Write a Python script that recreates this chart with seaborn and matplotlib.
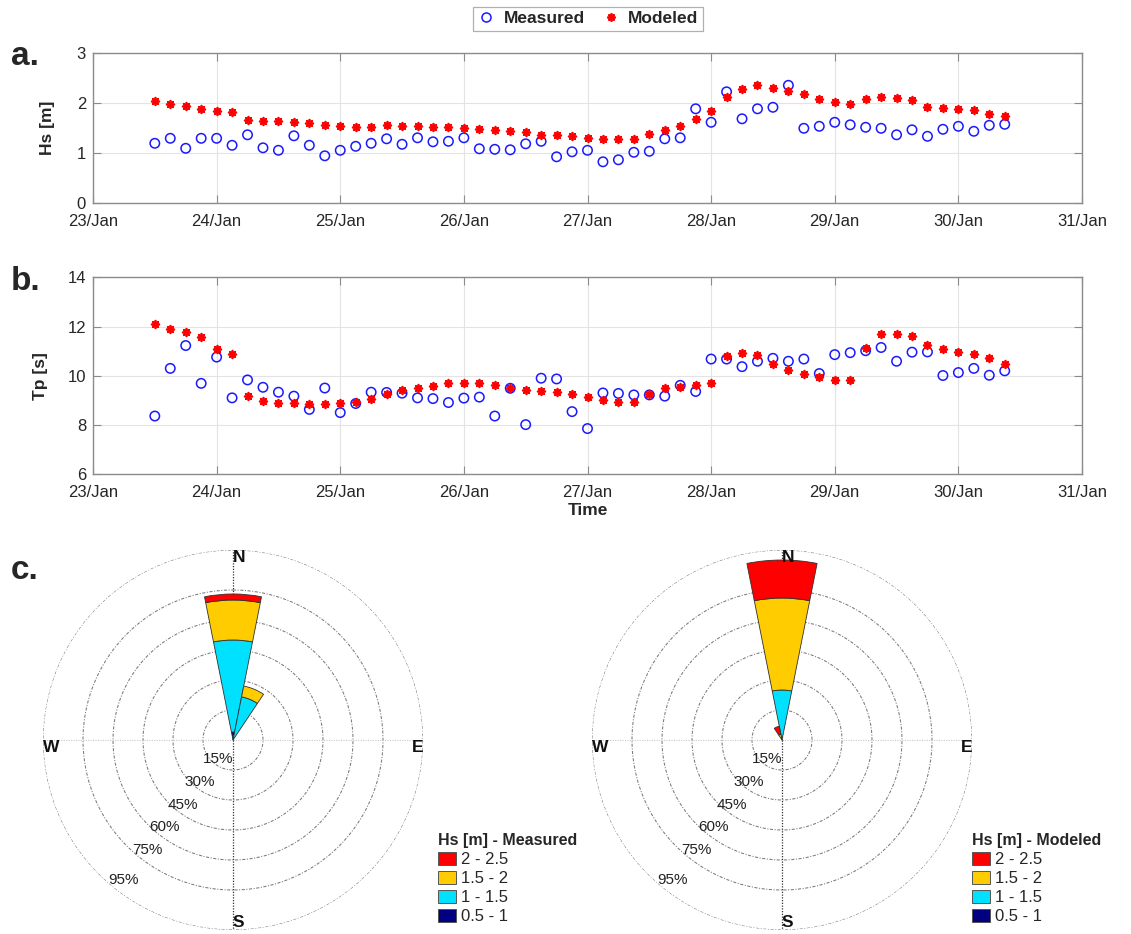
import numpy as np
import pandas as pd
import matplotlib
matplotlib.use("Agg")
import matplotlib.pyplot as plt
import matplotlib.dates as mdates
from matplotlib.patches import Patch
from matplotlib.lines import Line2D
import seaborn as sns

# ---------------- data ----------------
start_time = "2018-01-23 12:00"
n_steps = 56          # 3-hourly records
step = "3h"

hs_measured = [1.20, 1.30, 1.10, 1.30, 1.30, 1.16, 1.37, 1.11, 1.06, 1.35,
               1.16, 0.95, 1.06, 1.14, 1.20, 1.29, 1.18, 1.31, 1.23, 1.24,
               1.31, 1.09, 1.08, 1.07, 1.19, 1.24, 0.93, 1.03, 1.06, 0.83,
               0.87, 1.02, 1.04, 1.29, 1.31, 1.89, 1.62, 2.23, 1.69, 1.89,
               1.92, 2.36, 1.50, 1.54, 1.62, 1.57, 1.52, 1.50, 1.37, 1.47,
               1.34, 1.48, 1.54, 1.44, 1.56, 1.58]
hs_modeled = [2.05, 1.99, 1.94, 1.88, 1.85, 1.82, 1.67, 1.65, 1.64, 1.63,
              1.60, 1.56, 1.54, 1.52, 1.52, 1.56, 1.54, 1.55, 1.53, 1.52,
              1.50, 1.48, 1.46, 1.44, 1.42, 1.37, 1.36, 1.35, 1.31, 1.28,
              1.28, 1.29, 1.38, 1.46, 1.54, 1.68, 1.85, 2.12, 2.28, 2.37,
              2.31, 2.25, 2.19, 2.08, 2.02, 1.98, 2.09, 2.13, 2.11, 2.06,
              1.93, 1.91, 1.88, 1.86, 1.78, 1.75]
tp_measured = [8.36, 10.30, 11.23, 9.69, 10.76, 9.10, 9.83, 9.53, 9.33, 9.17,
               8.63, 9.50, 8.50, 8.87, 9.33, 9.32, 9.29, 9.10, 9.07, 8.91,
               9.09, 9.13, 8.36, 9.49, 8.01, 9.90, 9.87, 8.54, 7.85, 9.30,
               9.28, 9.22, 9.22, 9.17, 9.61, 9.36, 10.68, 10.68, 10.37, 10.59,
               10.71, 10.59, 10.68, 10.09, 10.86, 10.94, 11.02, 11.15, 10.59, 10.96,
               10.97, 10.01, 10.13, 10.30, 10.02, 10.20]
tp_modeled = [12.11, 11.91, 11.77, 11.59, 11.08, 10.90, 9.16, 8.99, 8.91, 8.89,
              8.85, 8.85, 8.89, 8.95, 9.05, 9.24, 9.40, 9.51, 9.60, 9.69,
              9.71, 9.69, 9.61, 9.51, 9.43, 9.36, 9.33, 9.25, 9.14, 9.02,
              8.92, 8.95, 9.24, 9.51, 9.55, 9.61, 9.71, 10.79, 10.93, 10.85,
              10.46, 10.24, 10.09, 9.93, 9.82, 9.82, 11.12, 11.69, 11.71, 11.60,
              11.26, 11.07, 10.96, 10.87, 10.72, 10.46]

x_start = "2018-01-23"
x_end = "2018-01-31"
hs_ticks = [0, 1, 2, 3]
tp_ticks = [6, 8, 10, 12, 14]

# wave roses (percent of time per direction sector, stacked by Hs class)
rose_bins = ["0.5 - 1", "1 - 1.5", "1.5 - 2", "2 - 2.5"]
rose_colors = ["#000080", "#00E1FF", "#FFCC00", "#FF0000"]
meas_dirs = [0.0, 22.5]
meas_0_5_1 = [4.0, 0.0]
meas_1_1_5 = [46.0, 22.0]
meas_1_5_2 = [20.0, 5.5]
meas_2_2_5 = [3.0, 0.0]
mod_dirs = [0.0, 337.5]
mod_0_5_1 = [0.0, 0.0]
mod_1_1_5 = [25.0, 0.0]
mod_1_5_2 = [46.0, 3.0]
mod_2_2_5 = [19.0, 4.0]
ring_levels = [15, 30, 45, 60, 75, 95]

# ---------------- style ----------------
sns.set_theme(style="white")
plt.rcParams["font.family"] = ["Liberation Sans", "DejaVu Sans"]

W, H = 1131, 934
fig = plt.figure(figsize=(W / 100, H / 100), dpi=100)

times = pd.date_range(start_time, periods=n_steps, freq=step)
df = pd.DataFrame({"time": times,
                   "hs_measured": hs_measured, "hs_modeled": hs_modeled,
                   "tp_measured": tp_measured, "tp_modeled": tp_modeled})

AX_L, AX_R = 93 / W, 1082 / W
ax_a = fig.add_axes([AX_L, 1 - 203.3 / H, AX_R - AX_L, (203.3 - 53.3) / H])
ax_b = fig.add_axes([AX_L, 1 - 474 / H, AX_R - AX_L, (474 - 277.5) / H])

star = (8, 2, 0)
spine_col = "#8c8c8c"
text_col = "#262626"


def style_ts(ax, yticks, ylabel):
    ax.set_xlim(pd.Timestamp(x_start), pd.Timestamp(x_end))
    ax.set_ylim(yticks[0], yticks[-1])
    ax.set_yticks(yticks)
    ax.xaxis.set_major_locator(mdates.DayLocator())
    ax.xaxis.set_major_formatter(mdates.DateFormatter("%d/%b"))
    ax.grid(True, color="#e3e3e3", lw=0.8)
    ax.set_axisbelow(True)
    for sp in ax.spines.values():
        sp.set_color(spine_col)
        sp.set_linewidth(1.0)
        sp.set_visible(True)
    ax.tick_params(direction="in", length=6, width=0.8, color=spine_col,
                   top=True, right=True, bottom=True, left=True,
                   labelsize=12, labelcolor=text_col)
    ax.tick_params(axis="x", pad=8)
    ax.tick_params(axis="y", pad=5)
    ax.set_ylabel(ylabel, fontsize=12.5, fontweight="bold", color=text_col)
    ax.set_xlabel("")


for ax, ym, yd, ticks, lab in [(ax_a, "hs_measured", "hs_modeled", hs_ticks, "Hs [m]"),
                               (ax_b, "tp_measured", "tp_modeled", tp_ticks, "Tp [s]")]:
    sns.scatterplot(data=df, x="time", y=ym, ax=ax, marker="o", s=46,
                    facecolor="none", edgecolor="#1a1aff", linewidth=1.1,
                    legend=False, zorder=3)
    sns.scatterplot(data=df, x="time", y=yd, ax=ax, marker=star, s=30,
                    color="#ff0000", linewidth=1.3, legend=False, zorder=4)
    style_ts(ax, ticks, lab)

ax_a.yaxis.set_label_coords(-0.038, 0.5)
ax_b.yaxis.set_label_coords(-0.045, 0.5)
ax_b.set_xlabel("Time", fontsize=12.5, fontweight="bold", color=text_col)
ax_b.xaxis.set_label_coords(0.5, -0.15)

# top legend
handles = [Line2D([], [], ls="", marker="o", mfc="none", mec="#1a1aff", ms=6.5, mew=1.1),
           Line2D([], [], ls="", marker=star, color="#ff0000", ms=6, mew=1.3)]
leg = fig.legend(handles, ["Measured", "Modeled"], loc="upper center",
                 bbox_to_anchor=(588 / W, 1 - 7 / H), ncol=2, frameon=True,
                 fancybox=False, edgecolor="#b0b0b0", framealpha=1,
                 prop={"weight": "bold", "size": 12.5}, handlelength=1.0,
                 handletextpad=0.5, columnspacing=1.0, borderpad=0.25,
                 borderaxespad=0)
leg.get_frame().set_linewidth(0.9)

# panel letters
fig.text(11 / W, 1 - 65 / H, "a.", fontsize=24, fontweight="bold", va="baseline")
fig.text(11 / W, 1 - 290 / H, "b.", fontsize=24, fontweight="bold", va="baseline")
fig.text(11 / W, 1 - 579 / H, "c.", fontsize=24, fontweight="bold", va="baseline")


# ---------------- wave roses ----------------
def draw_rose(cx, cy, dirs, classes, title, leg_x):
    R = 190
    ax = fig.add_axes([(cx - R) / W, 1 - (cy + R) / H, 2 * R / W, 2 * R / H],
                      projection="polar")
    ax.set_theta_zero_location("N")
    ax.set_theta_direction(-1)
    ax.set_ylim(0, ring_levels[-1])
    ax.grid(False)
    ax.spines["polar"].set_visible(False)
    ax.set_xticks([])
    ax.set_yticks([])
    ax.set_facecolor("none")
    theta = np.deg2rad(dirs)
    bottom = np.zeros(len(dirs))
    for vals, col in zip(classes, rose_colors):
        vals = np.asarray(vals, dtype=float)
        m = vals > 0
        if m.any():
            ax.bar(theta[m], vals[m], width=np.deg2rad(22.5), bottom=bottom[m],
                   color=col, edgecolor="#303030", linewidth=0.6, zorder=3,
                   align="center")
        bottom += vals
    full = np.linspace(0, 2 * np.pi, 721)
    for lev in ring_levels:
        ax.plot(full, np.full_like(full, lev), color="#7a7a7a", lw=0.75,
                ls=(0, (3, 1.5, 1, 1.5)), zorder=1)
    rmax = ring_levels[-1]
    ax.plot([0, 0], [0, rmax], color="#333333", lw=0.9, ls=(0, (1, 1.2)), zorder=2)
    ax.plot([np.pi, np.pi], [0, rmax], color="#333333", lw=0.9, ls=(0, (1, 1.2)), zorder=2)
    ax.plot([np.pi / 2, np.pi / 2], [0, rmax], color="#c8c8c8", lw=0.8, ls=(0, (1, 1.2)), zorder=1)
    ax.plot([3 * np.pi / 2, 3 * np.pi / 2], [0, rmax], color="#c8c8c8", lw=0.8, ls=(0, (1, 1.2)), zorder=1)
    kw = dict(fontsize=12.5, fontweight="bold", color="#111111", zorder=6)
    ax.text(0, rmax, "N", ha="left", va="top", **kw)
    ax.text(np.pi, rmax, "S", ha="left", va="bottom", **kw)
    ax.text(np.pi / 2, rmax, "E", ha="right", va="top", **kw)
    ax.text(3 * np.pi / 2, rmax, "W", ha="left", va="top", **kw)
    for lev in ring_levels:
        ax.text(np.deg2rad(218), lev - 2.0 - 0.045 * lev, f"{lev}%", ha="center",
                va="center", fontsize=11, color="#222222", zorder=5)
    hnd = [Patch(facecolor=c, edgecolor="#555555", linewidth=0.7)
           for c in rose_colors[::-1]]
    fig.legend(hnd, rose_bins[::-1], loc="upper left",
               bbox_to_anchor=(leg_x / W, 1 - 833 / H), frameon=False,
               title=title, alignment="left",
               title_fontproperties={"weight": "bold", "size": 11.5},
               prop={"size": 12}, handlelength=1.1, handleheight=0.85,
               handletextpad=0.3, labelspacing=0.22, borderpad=0,
               borderaxespad=0)
    return ax


draw_rose(233, 740, meas_dirs, [meas_0_5_1, meas_1_1_5, meas_1_5_2, meas_2_2_5],
          "Hs [m] - Measured", 438)
draw_rose(782, 740, mod_dirs, [mod_0_5_1, mod_1_1_5, mod_1_5_2, mod_2_2_5],
          "Hs [m] - Modeled", 972)

fig.savefig("out.png", dpi=100)
